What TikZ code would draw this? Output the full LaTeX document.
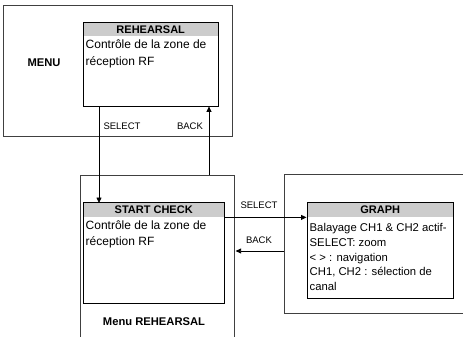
\documentclass[tikz,border=0pt]{standalone}
\usepackage{fontspec}
\setmainfont{Liberation Sans}
\usetikzlibrary{arrows.meta}
\begin{document}
\begin{tikzpicture}[x=1pt,y=-1pt,
  outerbox/.style={draw=black!75, line width=1.1pt, anchor=north west, inner sep=0pt},
  innerbox/.style={draw=black, line width=0.9pt, anchor=north west, inner sep=0pt},
  headbox/.style={fill=black!20, anchor=north west, inner sep=0pt, font=\fontsize{11}{12}\selectfont\bfseries},
  bodytext/.style={anchor=north west, inner sep=0pt, align=left},
  lbl/.style={font=\fontsize{9.5}{11}\selectfont, inner sep=0pt},
  titletext/.style={font=\fontsize{11.2}{12}\selectfont\bfseries, inner sep=0pt},
  arr/.style={draw=black, line width=0.8pt, -{Triangle[length=5.5pt,width=5pt]}}
]
\clip (0,0) rectangle (463,337);
% outer frames
\node[outerbox, minimum width=229pt, minimum height=131pt] (menu) at (3,5) {};
\node[outerbox, minimum width=154pt, minimum height=200pt] (mreh) at (80,175) {};
\node[outerbox, minimum width=220pt, minimum height=139pt] (gout) at (284,174) {};
% REHEARSAL box
\node[innerbox, minimum width=135pt, minimum height=84pt] (reh) at (83,22) {};
\node[headbox, minimum width=134pt, minimum height=13.5pt] (rehh) at (83.5,22.5) {REHEARSAL};
\draw[line width=0.9pt] (reh.north west) rectangle (reh.south east);
\node[bodytext, font=\fontsize{12}{16.5}\selectfont] (rehb) at (85.5,40) {Contrôle de la zone de\\réception RF};
% START CHECK box
\node[innerbox, minimum width=141pt, minimum height=101pt] (st) at (83,202) {};
\node[headbox, minimum width=140pt, minimum height=14.5pt] (sth) at (83.5,202.5) {START CHECK};
\draw[line width=0.9pt] (st.north west) rectangle (st.south east);
\node[bodytext, font=\fontsize{12}{16}\selectfont] (stb) at (85.5,220.5) {Contrôle de la zone de\\réception RF};
% GRAPH box
\node[innerbox, minimum width=146pt, minimum height=96pt] (gr) at (307,202) {};
\node[headbox, minimum width=145pt, minimum height=14.5pt] (grh) at (307.5,202.5) {GRAPH};
\draw[line width=0.9pt] (gr.north west) rectangle (gr.south east);
\node[bodytext, font=\fontsize{11.3}{14.7}\selectfont] (grb) at (309.5,223.5) {Balayage CH1 \& CH2 actif-\\SELECT: zoom\\< > : navigation\\CH1, CH2 : sélection de\\canal};
% titles
\node[titletext] (tmenu) at (44,63) {MENU};
\node[titletext] (tmreh) at (154,322) {Menu REHEARSAL};
% connectors
\draw[arr] ([xshift=16pt]reh.south west) -- ([xshift=16pt,yshift=-1pt]st.north west);
\draw[arr] ([xshift=129pt]mreh.north west) -- ([xshift=126pt,yshift=0.5pt]reh.south west);
\draw[arr] (st.east |- sth.south) -- ([xshift=-0.5pt]gr.west |- grh.south);
\draw[arr] ([yshift=-77pt]gout.north west) -- ([yshift=-76pt,xshift=0.5pt]mreh.north east);
% labels
\node[lbl] (l1) at (122,126) {SELECT};
\node[lbl] (l2) at (190,126) {BACK};
\node[lbl] (l3) at (259,205) {SELECT};
\node[lbl] (l4) at (259,240) {BACK};
\end{tikzpicture}
\end{document}
